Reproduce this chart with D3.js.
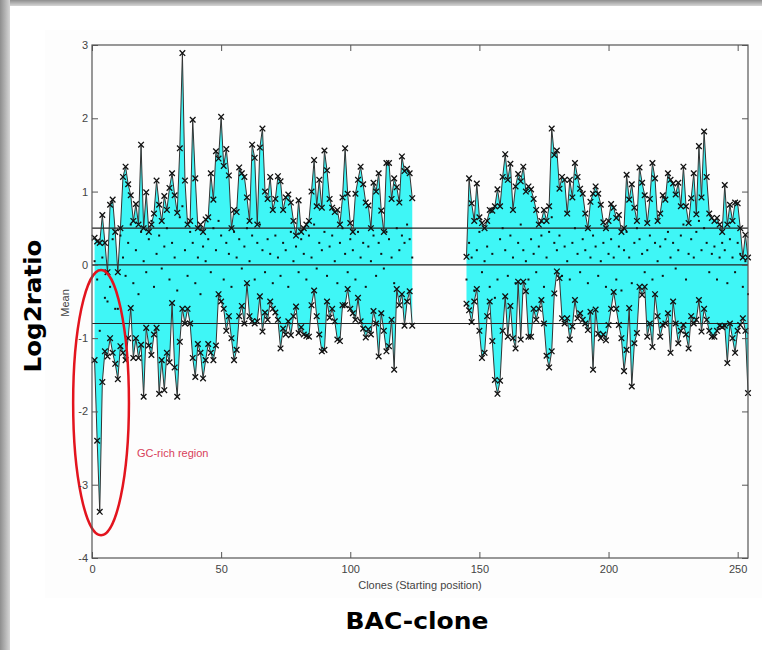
<!DOCTYPE html>
<html>
<head>
<meta charset="utf-8">
<script src="https://cdn.jsdelivr.net/npm/d3@7"></script>
<style>
  body { margin: 0; background: #fff; }
  svg { display: block; }
</style>
</head>
<body>
<svg width="762" height="650"></svg>
<script>
// clone numbers of the first value in each block
var leftStart = 1,
    rightStart = 145;

// per-clone max / min / mean log2 ratio, clones 1..124
var upperLeft = [0.37, 0.32, 0.30, 0.68, 0.30, -0.10, 0.82, 0.89, 0.45, -0.10,
  0.50, 1.20, 1.34, 1.10, 0.95, 0.60, 0.83, 0.55, 1.64, 0.50,
  0.99, 0.45, 0.55, 0.70, 1.15, 0.82, 0.60, 0.94, 0.75, 1.05,
  1.25, 0.95, 0.71, 1.59, 2.89, 1.15, 0.55, 0.60, 1.98, 1.18,
  0.50, 0.55, 0.45, 0.62, 0.65, 1.25, 0.89, 1.55, 1.45, 2.02,
  1.35, 1.58, 1.22, 0.50, 0.75, 0.72, 1.33, 1.25, 1.20, 0.92,
  0.60, 1.64, 1.46, 0.55, 1.60, 1.86, 1.00, 0.90, 1.20, 0.75,
  0.90, 1.21, 1.14, 0.75, 0.92, 0.96, 0.85, 0.60, 0.40, 0.88,
  0.45, 0.50, 0.55, 0.60, 1.00, 1.43, 0.80, 1.16, 0.78, 1.56,
  1.29, 0.90, 0.78, 0.72, 0.75, 0.55, 0.92, 1.59, 0.97, 0.57,
  0.45, 0.97, 1.16, 1.34, 1.10, 0.85, 0.81, 0.50, 1.12, 1.00,
  1.25, 0.74, 0.45, 1.39, 1.39, 0.90, 1.18, 1.06, 0.85, 1.48,
  1.28, 1.31, 1.25, 0.91];

var lowerLeft = [-1.30, -2.40, -3.37, -1.60, -1.18, -1.25, -1.00, -1.20, -1.35, -1.56,
  -1.11, -1.20, -1.30, -1.00, -0.59, -1.27, -1.00, -1.27, -1.09, -1.80,
  -0.86, -1.10, -1.23, -0.95, -0.86, -1.76, -1.30, -1.71, -1.20, -1.33,
  -0.52, -1.40, -1.80, -1.05, -0.60, -0.80, -0.60, -0.80, -1.27, -1.53,
  -1.08, -1.20, -1.55, -1.30, -1.08, -1.20, -1.30, -1.10, -0.40, -0.50,
  -0.60, -0.90, -0.70, -1.00, -1.30, -1.16, -0.70, -0.56, -0.80, -0.25,
  -0.70, -0.77, -0.80, -0.77, -0.43, -0.91, -0.65, -0.75, -0.50, -0.60,
  -0.65, -0.75, -1.14, -0.87, -0.95, -0.77, -0.96, -0.70, -0.57, -0.93,
  -0.85, -0.95, -0.97, -0.98, -0.55, -0.35, -0.70, -0.95, -1.18, -1.16,
  -0.50, -0.72, -0.60, -0.77, -1.02, -1.04, -0.55, -0.55, -0.33, -0.60,
  -0.66, -0.75, -0.45, -0.77, -0.87, -0.99, -0.88, -0.95, -0.63, -0.80,
  -1.25, -0.66, -0.90, -1.18, -1.11, -0.75, -1.43, -0.33, -0.55, -0.40,
  -0.83, -0.50, -0.36, -0.83];

var meanLeft = [0.05, -0.20, -0.90, 0.10, -0.45, -0.50, -0.30, 0.35, -0.60, -0.60,
  0.40, 0.10, -0.15, 0.30, 0.55, -0.25, 0.20, -0.40, 0.45, 0.05,
  -0.10, 0.35, 0.60, -0.30, 0.15, 0.40, -0.05, 0.25, 0.50, -0.20,
  0.30, 0.10, -0.35, 0.65, 0.80, 0.20, -0.15, 0.45, 0.30, -0.25,
  0.10, -0.40, 0.25, 0.05, 0.35, -0.10, 0.50, 0.20, 0.60, 0.40,
  -0.20, 0.30, 0.15, -0.30, 0.45, 0.10, 0.35, -0.05, 0.25, 0.50,
  0.05, 0.40, -0.20, 0.30, 0.55, 0.20, -0.10, 0.35, 0.15, -0.25,
  0.40, 0.10, -0.15, 0.30, 0.20, -0.30, 0.45, 0.05, 0.25, -0.10,
  0.35, 0.15, -0.20, 0.40, 0.10, 0.55, -0.05, 0.30, 0.20, 0.45,
  -0.15, 0.25, 0.40, 0.05, -0.25, 0.30, 0.50, 0.15, -0.10, 0.35,
  0.20, -0.20, 0.45, 0.10, 0.30, -0.30, 0.25, 0.05, 0.40, -0.15,
  0.30, 0.15, -0.05, 0.45, 0.35, 0.10, -0.25, 0.50, 0.20, 0.40,
  0.30, 0.55, 0.35, 0.10];

// clones 145..254
var upperRight = [0.11, 1.18, 0.84, 0.60, 1.11, 0.65, 0.57, 0.50, 0.60, 0.75,
  0.74, 0.80, 1.03, 0.80, 1.20, 1.51, 1.16, 1.38, 0.75, 1.07,
  1.24, 1.14, 1.34, 1.00, 1.07, 1.03, 0.90, 0.75, 0.55, 0.60,
  0.75, 0.60, 0.80, 1.86, 1.50, 1.56, 1.04, 1.20, 1.16, 0.70,
  1.16, 0.92, 1.39, 1.20, 1.04, 0.97, 0.70, 0.50, 0.86, 0.97,
  1.07, 0.97, 0.82, 0.58, 0.50, 0.60, 0.83, 0.78, 0.64, 0.68,
  0.45, 0.50, 1.23, 0.89, 1.10, 0.78, 0.60, 1.33, 1.12, 0.95,
  0.57, 0.90, 1.39, 1.18, 0.60, 0.70, 0.95, 0.89, 1.25, 1.16,
  1.11, 0.96, 1.12, 0.80, 1.34, 0.80, 0.57, 0.91, 1.25, 0.69,
  1.62, 0.92, 1.82, 1.20, 0.70, 0.64, 0.60, 0.64, 0.55, 0.45,
  1.09, 0.55, 0.82, 0.60, 0.85, 0.84, 0.50, 0.10, 0.41, 0.10];

var lowerRight = [-0.53, -0.62, -0.78, -0.50, -0.33, -0.90, -1.27, -1.20, -0.70, -0.50,
  -1.04, -1.57, -1.76, -1.58, -0.90, -0.43, -0.98, -0.56, -1.00, -1.14,
  -0.23, -1.02, -0.23, -0.36, -0.98, -0.98, -0.60, -0.75, -0.60, -0.48,
  -0.80, -1.24, -1.40, -1.18, -0.39, -0.09, -0.18, -0.73, -0.80, -0.73,
  -1.02, -0.84, -0.48, -0.73, -0.66, -0.75, -0.80, -0.89, -0.64, -1.43,
  -0.61, -0.94, -1.00, -0.95, -1.03, -0.82, -0.60, -0.37, -0.60, -0.82,
  -1.00, -1.45, -1.16, -0.59, -1.66, -1.07, -0.93, -0.30, -0.41, -0.30,
  -0.98, -0.80, -1.12, -0.40, -0.70, -0.98, -0.82, -0.80, -0.66, -1.20,
  -0.50, -0.80, -1.07, -0.90, -0.82, -0.95, -1.14, -0.70, -0.80, -0.75,
  -0.48, -0.91, -0.60, -0.75, -0.90, -0.98, -0.98, -0.90, -0.83, -0.85,
  -0.83, -1.34, -0.80, -1.00, -1.20, -0.90, -0.82, -0.73, -0.90, -1.75];

var meanRight = [-0.20, 0.30, 0.10, -0.35, 0.20, 0.45, -0.10, 0.05, 0.25, -0.30,
  0.15, -0.45, -0.20, 0.35, 0.50, 0.20, -0.15, 0.40, 0.10, -0.25,
  0.30, 0.55, 0.20, 0.05, -0.20, 0.35, 0.15, -0.10, 0.25, 0.40,
  -0.30, 0.10, 0.45, 0.65, 0.30, 0.20, 0.40, -0.15, 0.25, 0.05,
  -0.20, 0.30, 0.50, 0.15, -0.10, 0.35, 0.20, -0.25, 0.10, 0.40,
  0.25, -0.15, 0.05, 0.30, -0.30, 0.15, 0.35, 0.10, -0.20, 0.25,
  -0.35, 0.20, 0.45, 0.10, -0.25, 0.30, 0.50, 0.35, 0.15, -0.10,
  0.20, 0.40, -0.20, 0.30, 0.05, 0.25, -0.15, 0.35, 0.45, 0.10,
  0.30, -0.05, 0.20, 0.40, 0.55, -0.20, 0.15, 0.35, 0.10, 0.45,
  0.60, 0.20, 0.50, 0.30, -0.10, 0.15, 0.25, -0.20, 0.10, 0.30,
  0.20, -0.25, 0.35, 0.10, -0.10, 0.30, 0.15, -0.30, 0.05, -0.40];

var refLines = [0.5, 0, -0.8];
var xTicks = [0, 50, 100, 150, 200, 250];
var yTicks = [-4, -3, -2, -1, 0, 1, 2, 3];

var svg = d3.select("svg");

var x = d3.scaleLinear().domain([0, 254]).range([92, 748]);
var y = d3.scaleLinear().domain([-4, 3]).range([558, 45]);

// slide frame: grey shadow on left and top
var defs = svg.append("defs");
var gl = defs.append("linearGradient").attr("id", "shadeL");
gl.append("stop").attr("offset", "0").attr("stop-color", "#8e8e8e");
gl.append("stop").attr("offset", "1").attr("stop-color", "#d6d6d6");
var gt = defs.append("linearGradient").attr("id", "shadeT").attr("x2", 0).attr("y2", 1);
gt.append("stop").attr("offset", "0").attr("stop-color", "#8e8e8e");
gt.append("stop").attr("offset", "1").attr("stop-color", "#d6d6d6");
svg.append("rect").attr("x", 0).attr("y", 0).attr("width", 762).attr("height", 6).attr("fill", "url(#shadeT)");
svg.append("rect").attr("x", 0).attr("y", 0).attr("width", 10).attr("height", 650).attr("fill", "url(#shadeL)");
svg.append("rect").attr("x", 45).attr("y", 30).attr("width", 717).attr("height", 568).attr("fill", "#fdfdfd");

var sections = [
  { start: leftStart, upper: upperLeft, lower: lowerLeft, mean: meanLeft },
  { start: rightStart, upper: upperRight, lower: lowerRight, mean: meanRight }
].map(function(s) {
  return s.upper.map(function(u, i) {
    return { clone: s.start + i, hi: u, lo: s.lower[i], mean: s.mean[i] };
  });
});
var allRows = d3.merge(sections);

var area = d3.area()
  .x(function(d) { return x(d.clone); })
  .y0(function(d) { return y(d.lo); })
  .y1(function(d) { return y(d.hi); });
var lineHi = d3.line().x(function(d) { return x(d.clone); }).y(function(d) { return y(d.hi); });
var lineLo = d3.line().x(function(d) { return x(d.clone); }).y(function(d) { return y(d.lo); });

var plot = svg.append("g");

plot.selectAll("path.band")
  .data(sections)
  .enter().append("path")
    .attr("class", "band")
    .attr("d", area)
    .attr("fill", "#3ff6f6")
    .attr("stroke", "none");

// reference lines across the whole axis
plot.selectAll("line.ref")
  .data(refLines)
  .enter().append("line")
    .attr("class", "ref")
    .attr("x1", x(0)).attr("x2", x(254))
    .attr("y1", function(d) { return y(d); })
    .attr("y2", function(d) { return y(d); })
    .attr("stroke", "#222")
    .attr("stroke-width", 1.2);

sections.forEach(function(rows) {
  plot.append("path").attr("d", lineHi(rows)).attr("fill", "none").attr("stroke", "#333").attr("stroke-width", 1);
  plot.append("path").attr("d", lineLo(rows)).attr("fill", "none").attr("stroke", "#333").attr("stroke-width", 1);
});

// mean dots
plot.selectAll("rect.mean")
  .data(allRows)
  .enter().append("rect")
    .attr("class", "mean")
    .attr("x", function(d) { return x(d.clone) - 1; })
    .attr("y", function(d) { return y(d.mean) - 1; })
    .attr("width", 2).attr("height", 2)
    .attr("fill", "#111");

// x markers on max and min
var marks = [];
allRows.forEach(function(d) {
  marks.push({ clone: d.clone, v: d.hi });
  marks.push({ clone: d.clone, v: d.lo });
});
var s = 2.8;
plot.selectAll("path.mark")
  .data(marks)
  .enter().append("path")
    .attr("class", "mark")
    .attr("d", function(d) {
      var cx = x(d.clone), cy = y(d.v);
      return "M" + (cx - s) + "," + (cy - s) + "L" + (cx + s) + "," + (cy + s) +
             "M" + (cx - s) + "," + (cy + s) + "L" + (cx + s) + "," + (cy - s);
    })
    .attr("stroke", "#111")
    .attr("stroke-width", 1.3);

// GC-rich annotation (under the tick labels)
svg.append("ellipse")
  .attr("cx", x(3.5)).attr("cy", y(-1.88))
  .attr("rx", x(10.8) - x(0)).attr("ry", y(-1.81) - y(0))
  .attr("fill", "none")
  .attr("stroke", "#e3141e")
  .attr("stroke-width", 2.5);

svg.append("text")
  .attr("x", x(17.4)).attr("y", y(-2.62))
  .attr("fill", "#d8405a")
  .style("font-family", "'Liberation Sans', Arial, sans-serif")
  .style("font-size", "11px")
  .text("GC-rich region");

// axes box with inward ticks (matlab style)
var axisColor = "#555";
var plain = function(d) { return String(d); };
svg.append("rect")
  .attr("x", x(0)).attr("y", y(3))
  .attr("width", x(254) - x(0)).attr("height", y(-4) - y(3))
  .attr("fill", "none").attr("stroke", axisColor).attr("stroke-width", 1.2);

var gx = svg.append("g").attr("transform", "translate(0," + y(-4) + ")")
  .call(d3.axisBottom(x).tickValues(xTicks).tickFormat(plain).tickSizeInner(-6).tickSizeOuter(0).tickPadding(7));
var gxt = svg.append("g").attr("transform", "translate(0," + y(3) + ")")
  .call(d3.axisTop(x).tickValues(xTicks).tickSizeInner(-6).tickSizeOuter(0).tickFormat(""));
var gy = svg.append("g").attr("transform", "translate(" + x(0) + ",0)")
  .call(d3.axisLeft(y).tickValues(yTicks).tickFormat(plain).tickSizeInner(-6).tickSizeOuter(0).tickPadding(4));
var gyr = svg.append("g").attr("transform", "translate(" + x(254) + ",0)")
  .call(d3.axisRight(y).tickValues(yTicks).tickSizeInner(-6).tickSizeOuter(0).tickFormat(""));

[gx, gxt, gy, gyr].forEach(function(g) {
  g.select(".domain").remove();
  g.selectAll("line").attr("stroke", axisColor);
  g.selectAll("text")
    .attr("fill", "#444")
    .style("font-family", "'Liberation Sans', Arial, sans-serif")
    .style("font-size", "11px");
});

svg.append("text")
  .attr("x", 420).attr("y", 589)
  .attr("text-anchor", "middle")
  .attr("fill", "#444")
  .style("font-family", "'Liberation Sans', Arial, sans-serif")
  .style("font-size", "11px")
  .text("Clones (Starting position)");

svg.append("text")
  .attr("transform", "translate(69,303) rotate(-90)")
  .attr("text-anchor", "middle")
  .attr("fill", "#444")
  .style("font-family", "'Liberation Sans', Arial, sans-serif")
  .style("font-size", "11px")
  .text("Mean");

// slide titles
svg.append("text")
  .attr("transform", "translate(41,306) rotate(-90)")
  .attr("text-anchor", "middle")
  .attr("textLength", 133)
  .attr("lengthAdjust", "spacingAndGlyphs")
  .style("font-family", "'Comic Sans MS', 'DejaVu Sans', sans-serif")
  .style("font-weight", "bold")
  .style("font-size", "23px")
  .text("Log2ratio");

svg.append("text")
  .attr("x", 417).attr("y", 629)
  .attr("text-anchor", "middle")
  .attr("textLength", 143)
  .attr("lengthAdjust", "spacingAndGlyphs")
  .style("font-family", "'Comic Sans MS', 'DejaVu Sans', sans-serif")
  .style("font-weight", "bold")
  .style("font-size", "23px")
  .text("BAC-clone");
</script>
</body>
</html>
